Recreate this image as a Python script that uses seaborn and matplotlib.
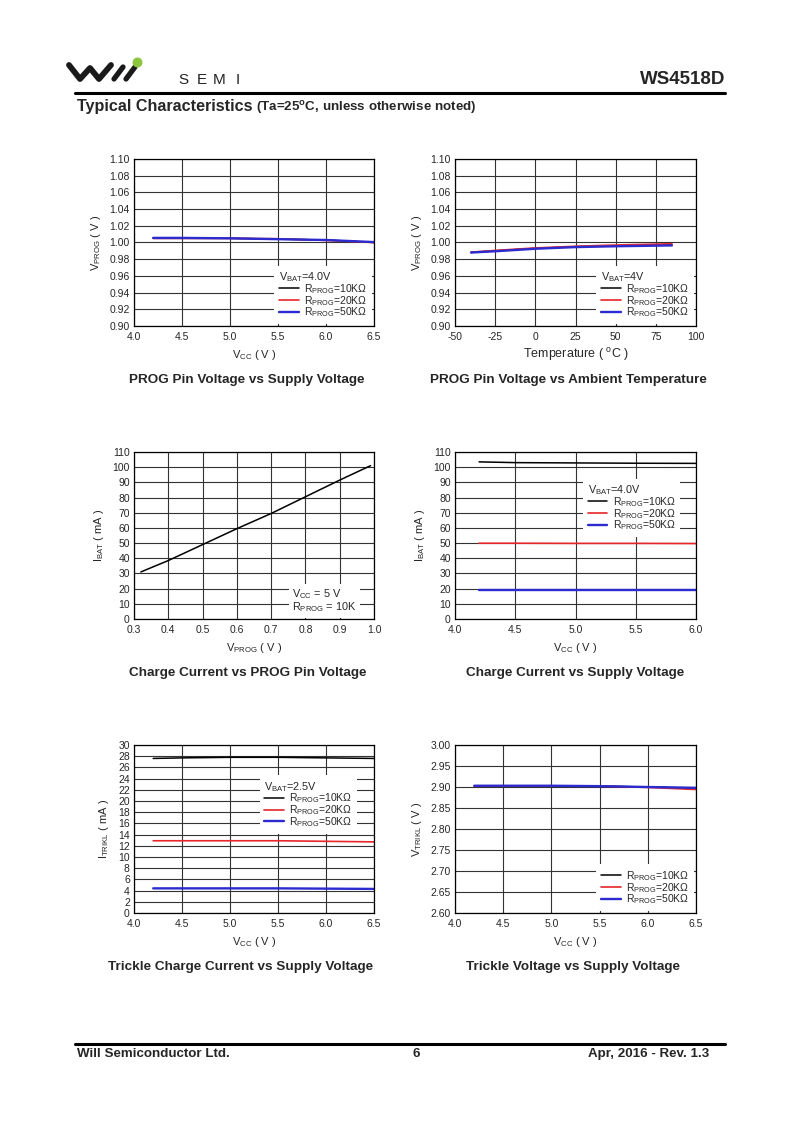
import numpy as np
import pandas as pd
import matplotlib
matplotlib.use("Agg")
import matplotlib.pyplot as plt
import seaborn as sns

sns.set_style("white")
plt.rcParams['font.family'] = ['Liberation Sans', 'DejaVu Sans']
plt.rcParams['mathtext.default'] = 'regular'

# ---- data ----
vcc_prog = [4.2, 4.5, 5.0, 5.5, 6.0, 6.5]
vprog_10k = [1.005, 1.005, 1.005, 1.004, 1.003, 1.000]
vprog_20k = [1.005, 1.005, 1.005, 1.0045, 1.0025, 1.000]
vprog_50k = [1.0055, 1.0055, 1.005, 1.004, 1.003, 1.0005]

temp = [-40, -25, 0, 25, 50, 85]
vprog_t_10k = [0.988, 0.990, 0.993, 0.995, 0.996, 0.997]
vprog_t_20k = [0.9885, 0.9905, 0.9935, 0.9955, 0.997, 0.9985]
vprog_t_50k = [0.988, 0.9895, 0.9925, 0.9945, 0.9955, 0.9965]

vprog_sweep = [0.32, 0.4, 0.5, 0.6, 0.7, 0.8, 0.9, 0.99]
ibat_sweep = [31, 38.5, 49, 59.5, 69.5, 80.5, 91.5, 101]

vcc_chg = [4.2, 4.5, 5.0, 5.5, 6.0]
ibat_10k = [103.5, 103.0, 102.8, 102.6, 102.5]
ibat_20k = [49.9, 49.9, 49.8, 49.8, 49.7]
ibat_50k = [19.0, 19.0, 19.0, 19.0, 19.0]

vcc_trk = [4.2, 4.5, 5.0, 5.5, 6.0, 6.5]
itrk_10k = [27.6, 27.7, 27.8, 27.8, 27.7, 27.6]
itrk_20k = [12.9, 12.9, 12.9, 12.9, 12.8, 12.7]
itrk_50k = [4.4, 4.4, 4.4, 4.4, 4.35, 4.3]

vtrk_10k = [2.902, 2.902, 2.902, 2.902, 2.900, 2.897]
vtrk_20k = [2.902, 2.902, 2.902, 2.902, 2.899, 2.894]
vtrk_50k = [2.903, 2.903, 2.903, 2.902, 2.900, 2.898]

rprog_labels = [r'R$_{PROG}$=10KΩ', r'R$_{PROG}$=20KΩ', r'R$_{PROG}$=50KΩ']
colors = ['black', '#e8262a', '#2b2bd0']
widths = [1.1, 1.2, 1.7]

W, H = 800, 1131
fig = plt.figure(figsize=(8, 11.31), dpi=100)


def px_axes(l, t, r, b):
    return fig.add_axes([l / W, 1 - b / H, (r - l) / W, (b - t) / H])


def style_axes(ax, xlim, xticks, ylim, yticks, xfmt, yfmt):
    ax.set_xlim(*xlim)
    ax.set_ylim(*ylim)
    ax.set_xticks(xticks)
    ax.set_yticks(yticks)
    ax.set_xticklabels([xfmt.format(v) for v in xticks])
    ax.set_yticklabels([yfmt.format(v) for v in yticks])
    ax.grid(True, color='#333333', lw=0.8)
    ax.set_axisbelow(True)
    ax.tick_params(length=0, labelsize=7.5)
    ax.tick_params(axis='x', pad=4.5)
    ax.tick_params(axis='y', pad=3)
    for s in ax.spines.values():
        s.set_color('black')
        s.set_linewidth(0.9)


def three_lines(ax, x, ys):
    for y, c, lw, lab in zip(ys, colors, widths, rprog_labels):
        sns.lineplot(x=x, y=y, color=c, lw=lw, label=lab, ax=ax)


def add_legend(ax, title, **kw):
    leg = ax.legend(title=title, fontsize=7.5, title_fontsize=7.8, alignment='left',
                    frameon=True, fancybox=False, framealpha=1, edgecolor='none',
                    handlelength=1.9, handletextpad=0.5, labelspacing=-0.2,
                    borderpad=0.45, **kw)
    leg.get_frame().set_linewidth(0)
    return leg


# 1. PROG pin voltage vs supply voltage
ax1 = px_axes(134, 159, 374, 326)
three_lines(ax1, vcc_prog, [vprog_10k, vprog_20k, vprog_50k])
style_axes(ax1, (4.0, 6.5), np.arange(4.0, 6.51, 0.5), (0.90, 1.10),
           np.arange(0.90, 1.101, 0.02), '{:.1f}', '{:.2f}')
add_legend(ax1, r'V$_{BAT}$=4.0V', loc='lower right', borderaxespad=0.2)
ax1.set_xlabel(r'V$_{CC}$ ( V )', fontsize=8, labelpad=4)
ax1.set_ylabel(r'V$_{PROG}$ ( V )', fontsize=8, labelpad=5)

# 2. PROG pin voltage vs ambient temperature
ax2 = px_axes(455, 159, 696, 326)
three_lines(ax2, temp, [vprog_t_10k, vprog_t_20k, vprog_t_50k])
style_axes(ax2, (-50, 100), np.arange(-50, 101, 25), (0.90, 1.10),
           np.arange(0.90, 1.101, 0.02), '{:.0f}', '{:.2f}')
add_legend(ax2, r'V$_{BAT}$=4V', loc='lower right', borderaxespad=0.2)
ax2.set_xlabel(r'Temperature ( $^{o}$C )', fontsize=9, labelpad=3)
ax2.set_ylabel(r'V$_{PROG}$ ( V )', fontsize=8, labelpad=5)

# 3. Charge current vs PROG pin voltage
ax3 = px_axes(134, 452, 374, 619)
sns.lineplot(x=vprog_sweep, y=ibat_sweep, color='black', lw=1.1, ax=ax3)
style_axes(ax3, (0.3, 1.0), np.arange(0.3, 1.001, 0.1), (0, 110),
           np.arange(0, 111, 10), '{:.1f}', '{:.0f}')
ax3.text(0.66, 0.11, 'V$_{CC}$ = 5 V\nR$_{PROG}$ = 10K', transform=ax3.transAxes,
         fontsize=7.8, va='center', ha='left', linespacing=1.0,
         bbox=dict(boxstyle='square,pad=0.3', fc='white', ec='none'))
ax3.set_xlabel(r'V$_{PROG}$ ( V )', fontsize=8, labelpad=4)
ax3.set_ylabel(r'I$_{BAT}$ ( mA )', fontsize=8, labelpad=5)

# 4. Charge current vs supply voltage
ax4 = px_axes(455, 452, 696, 619)
three_lines(ax4, vcc_chg, [ibat_10k, ibat_20k, ibat_50k])
style_axes(ax4, (4.0, 6.0), np.arange(4.0, 6.01, 0.5), (0, 110),
           np.arange(0, 111, 10), '{:.1f}', '{:.0f}')
add_legend(ax4, r'V$_{BAT}$=4.0V', loc='upper right',
           bbox_to_anchor=(0.935, 0.84), borderaxespad=0)
ax4.set_xlabel(r'V$_{CC}$ ( V )', fontsize=8, labelpad=4)
ax4.set_ylabel(r'I$_{BAT}$ ( mA )', fontsize=8, labelpad=5)

# 5. Trickle charge current vs supply voltage
ax5 = px_axes(134, 745, 374, 913)
three_lines(ax5, vcc_trk, [itrk_10k, itrk_20k, itrk_50k])
style_axes(ax5, (4.0, 6.5), np.arange(4.0, 6.51, 0.5), (0, 30),
           np.arange(0, 31, 2), '{:.1f}', '{:.0f}')
add_legend(ax5, r'V$_{BAT}$=2.5V', loc='upper right',
           bbox_to_anchor=(0.93, 0.82), borderaxespad=0)
ax5.set_xlabel(r'V$_{CC}$ ( V )', fontsize=8, labelpad=4)
ax5.set_ylabel(r'I$_{TRIKL}$ ( mA )', fontsize=8, labelpad=5)

# 6. Trickle voltage vs supply voltage
ax6 = px_axes(455, 745, 696, 913)
three_lines(ax6, vcc_trk, [vtrk_10k, vtrk_20k, vtrk_50k])
style_axes(ax6, (4.0, 6.5), np.arange(4.0, 6.51, 0.5), (2.60, 3.00),
           np.arange(2.60, 3.001, 0.05), '{:.1f}', '{:.2f}')
add_legend(ax6, None, loc='lower right', borderaxespad=0.2)
ax6.set_xlabel(r'V$_{CC}$ ( V )', fontsize=8, labelpad=4)
ax6.set_ylabel(r'V$_{TRIKL}$ ( V )', fontsize=8, labelpad=5)

# chart captions
captions = [
    (247, 380, 'PROG Pin Voltage vs Supply Voltage'),
    (568, 380, 'PROG Pin Voltage vs Ambient Temperature'),
    (248, 673, 'Charge Current vs PROG Pin Voltage'),
    (575, 673, 'Charge Current vs Supply Voltage'),
    (241, 967, 'Trickle Charge Current vs Supply Voltage'),
    (573, 967, 'Trickle Voltage vs Supply Voltage'),
]
for x, y, s in captions:
    fig.text(x / W, 1 - y / H, s, ha='center', va='center', fontsize=9.7, fontweight='bold')

# page header / footer
bg = fig.add_axes([0, 0, 1, 1], zorder=-5)
bg.set_xlim(0, W)
bg.set_ylim(H, 0)
bg.axis('off')
bg.plot([69, 80, 90, 99, 111], [65, 79, 68, 79, 65], color='#1a1a1a', lw=4.2,
        solid_joinstyle='round', solid_capstyle='round')
bg.plot([114, 123], [79, 67], color='#1a1a1a', lw=3.8, solid_capstyle='round')
bg.plot([126, 135], [79, 67], color='#1a1a1a', lw=3.8, solid_capstyle='round')
bg.scatter([137], [62], s=38, color='#8cc63f', zorder=3)
for lx, letter in zip([178, 197, 213, 236], 'SEMI'):
    bg.text(lx, 80, letter, fontsize=11, va='center', ha='left', color='#222222')
bg.text(725, 79, 'WS4518D', fontsize=13.5, fontweight='bold', va='center', ha='right')
bg.plot([75, 725], [93, 93], color='black', lw=2.2)
bg.text(77, 107, 'Typical Characteristics', fontsize=11.6, fontweight='bold', va='center')
bg.text(256, 108, r'(Ta=25$^{o}$C, unless otherwise noted)', fontsize=9.6,
        fontweight='bold', va='center')
bg.plot([75, 725], [1044, 1044], color='black', lw=2.2)
bg.text(77, 1054, 'Will Semiconductor Ltd.', fontsize=9.6, fontweight='bold', va='center')
bg.text(416, 1054, '6', fontsize=9.6, fontweight='bold', va='center', ha='center')
bg.text(709, 1054, 'Apr, 2016 - Rev. 1.3', fontsize=9.6, fontweight='bold', va='center', ha='right')

fig.savefig('out.png', dpi=100)
